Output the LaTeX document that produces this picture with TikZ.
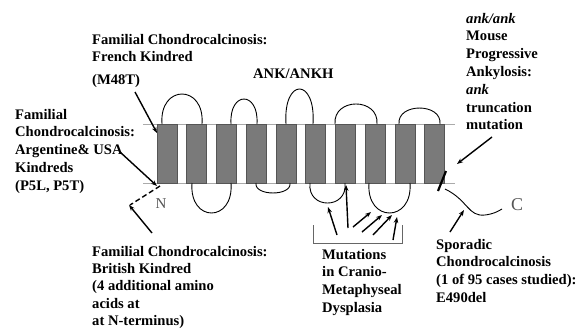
\documentclass[tikz,border=0pt]{standalone}
\usepackage{fontspec}
\setmainfont{Liberation Serif}
\usetikzlibrary{arrows.meta}
\definecolor{barfill}{HTML}{7A7A7A}
\definecolor{baredge}{HTML}{555555}
\definecolor{memb}{HTML}{AAAAAA}
\definecolor{termc}{HTML}{555555}
\tikzset{
  bar/.style={fill=barfill, draw=baredge, line width=0.6pt},
  membline/.style={draw=memb, line width=1pt},
  loopline/.style={draw=black, line width=0.9pt},
  pointer/.style={draw=black, line width=1.4pt, -{Stealth[length=6pt,width=4.5pt]}},
  lbl/.style={anchor=base west, inner sep=0pt, font=\fontsize{14.6}{17.8}\selectfont\bfseries},
  term/.style={inner sep=0pt, text=termc},
  brack/.style={draw=black!60, line width=0.8pt}
}
\begin{document}
\begin{tikzpicture}[x=1pt, y=-1pt]
\useasboundingbox (0,0) rectangle (579,330);
% membrane
\draw[membline] (143,124) -- (455,124);
\draw[membline] (143,183) -- (455,183);
% bars
\foreach \i in {0,...,9} {
  \path[bar] ({157+29.75*\i},124) rectangle ({177+29.75*\i},183);
}
% extracellular loops
\draw[loopline] (162,124) .. controls (159,84) and (205,84) .. (202,124);
\draw[loopline] (231,124) .. controls (229,90.7) and (259,90.7) .. (257,124);
\draw[loopline] (286,124) .. controls (283,77.3) and (316,77.3) .. (313,124);
\draw[loopline] (335,124) .. controls (333,97.3) and (379,97.3) .. (377,124);
\draw[loopline] (399,124) .. controls (397,102.7) and (442,102.7) .. (440,124);
% intracellular loops
\draw[loopline] (192,183) .. controls (189,223) and (234,223) .. (231,183);
\draw[loopline] (256,183) .. controls (254,196.3) and (292,196.3) .. (290,183);
\draw[loopline] (310,183) .. controls (307,209.7) and (348,209.7) .. (345,183);
\draw[loopline] (369,183) .. controls (366,223) and (413,223) .. (410,183);
% termini
\coordinate (nstart) at (160,186);
\coordinate (nend) at (130,205);
\draw[black, line width=1.4pt, dash pattern=on 5pt off 3pt] (nstart) -- (nend);
\node[term, font=\fontsize{15}{15}\selectfont] (N) at (161,204) {N};
\coordinate (cstart) at (445,189);
\coordinate (cend) at (502,209);
\draw[loopline] (cstart) .. controls (468,200) and (468,217) .. (485,215) .. controls (493,214) and (497,212) .. (cend);
\node[term, font=\fontsize{18}{18}\selectfont] (C) at (517,205) {C};
% truncation mark
\coordinate (tr1) at (438,191);
\coordinate (tr2) at (446,171);
\draw[black, line width=2.2pt] (tr1) -- (tr2);
% labels
\node[lbl] (french) at (92,44) {\begin{tabular}[t]{@{}l@{}}Familial Chondrocalcinosis:\\French Kindred\\[5pt](M48T)\end{tabular}};
\node[lbl] (ankh) at (253,78) {ANK/ANKH};
\node[lbl] (argent) at (15,119) {\begin{tabular}[t]{@{}l@{}}Familial\\Chondrocalcinosis:\\Argentine\& USA\\Kindreds\\(P5L, P5T)\end{tabular}};
\node[lbl] (mouse) at (466,23) {\begin{tabular}[t]{@{}l@{}}\textit{ank/ank}\\Mouse\\Progressive\\Ankylosis:\\\textit{ank}\\truncation\\mutation\end{tabular}};
\node[lbl, font=\fontsize{14.6}{17.4}\selectfont\bfseries] (british) at (92,256) {\begin{tabular}[t]{@{}l@{}}Familial Chondrocalcinosis:\\British Kindred\\(4 additional amino\\acids at\\at N-terminus)\end{tabular}};
\node[lbl] (mut) at (322,259) {\begin{tabular}[t]{@{}l@{}}Mutations\\in Cranio-\\Metaphyseal\\Dysplasia\end{tabular}};
\node[lbl] (spor) at (436,249) {\begin{tabular}[t]{@{}l@{}}Sporadic\\Chondrocalcinosis\\(1 of 95 cases studied):\\E490del\end{tabular}};
% pointer coordinates
\coordinate (fr1) at (135,92);   \coordinate (fr2) at (157,133);
\coordinate (ar1) at (120,152);  \coordinate (ar2) at (157,186);
\coordinate (mo1) at (492,137);  \coordinate (mo2) at (457,164);
\coordinate (sp1) at (450,232);  \coordinate (sp2) at (464,210);
\coordinate (br1) at (152,233);  \coordinate (br2) at (129,205);
\draw[pointer] (fr1) -- (fr2);
\draw[pointer] (ar1) -- (ar2);
\draw[pointer] (mo1) -- (mo2);
\draw[pointer] (sp1) -- (sp2);
\draw[pointer] (br1) -- (br2);
% bracket
\coordinate (bk1) at (313,225); \coordinate (bk2) at (313,243);
\coordinate (bk3) at (402,243); \coordinate (bk4) at (402,225);
\draw[brack] (bk1) -- (bk2) -- (bk3) -- (bk4);
% mutation arrows
\coordinate (ma1) at (337,235); \coordinate (mb1) at (328,207);
\coordinate (ma2) at (348,228); \coordinate (mb2) at (346,185);
\coordinate (ma3) at (353,227); \coordinate (mb3) at (371,212);
\coordinate (ma4) at (362,232); \coordinate (mb4) at (382,215);
\coordinate (ma5) at (373,235); \coordinate (mb5) at (392,215);
\coordinate (ma6) at (393,240); \coordinate (mb6) at (397,217);
\foreach \k in {1,...,6} { \draw[pointer] (ma\k) -- (mb\k); }
\end{tikzpicture}
\end{document}
